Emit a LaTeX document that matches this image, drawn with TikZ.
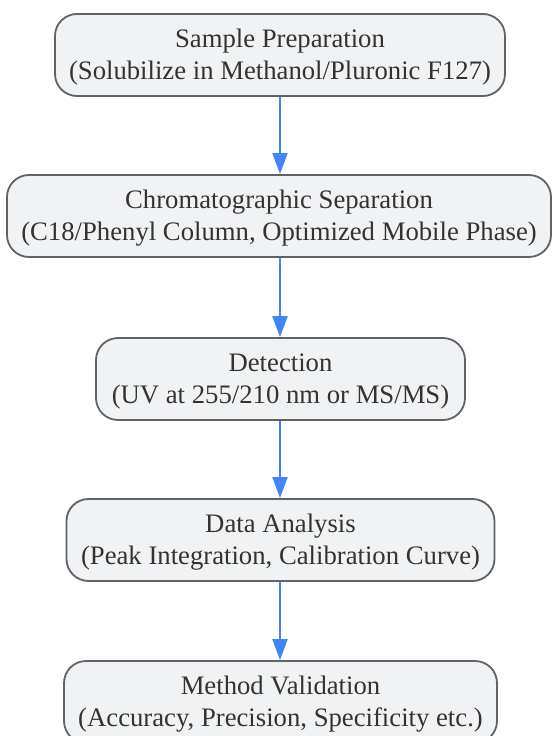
\documentclass[tikz,border=0pt]{standalone}
\usepackage{fontspec}
\setmainfont{Liberation Serif}
\usetikzlibrary{arrows.meta}
\definecolor{boxfill}{HTML}{F1F2F4}
\definecolor{boxline}{HTML}{5F6368}
\definecolor{arrowblue}{HTML}{4285F4}
\definecolor{txt}{HTML}{333333}
\newcommand{\topstrut}{\rule{0pt}{23.5pt}}
\begin{document}
\begin{tikzpicture}[x=1pt,y=1pt,
  stepbox/.style={draw=boxline, line width=1.8pt, fill=boxfill, rounded corners=22pt,
    minimum height=82pt, align=center, text=txt, inner sep=0pt,
    font=\fontsize{26.7}{32}\selectfont},
  flow/.style={draw=arrowblue, line width=2pt, -{Triangle[length=21pt,width=15pt]}}]
\useasboundingbox (0,0) rectangle (552,-736);
\node[stepbox, minimum width=450pt] (n1) at (280,-55) {\topstrut Sample Preparation\\(Solubilize in Methanol/Pluronic F127)};
\node[stepbox, minimum width=544pt] (n2) at (279,-216) {\topstrut Chromatographic Separation\\(C18/Phenyl Column, Optimized Mobile Phase)};
\node[stepbox, minimum width=369pt] (n3) at (280.5,-379) {\topstrut Detection\\(UV at 255/210 nm or MS/MS)};
\node[stepbox, minimum width=428pt] (n4) at (280.5,-540) {\topstrut Data Analysis\\(Peak Integration, Calibration Curve)};
\node[stepbox, minimum width=433pt] (n5) at (280.5,-702) {\topstrut Method Validation\\(Accuracy, Precision, Specificity etc.)};
\draw[flow] (n1.south -| 280,0) -- (n2.north -| 280,0);
\draw[flow] (n2.south -| 280,0) -- (n3.north -| 280,0);
\draw[flow] (n3.south -| 280,0) -- (n4.north -| 280,0);
\draw[flow] (n4.south -| 280,0) -- (n5.north -| 280,0);
\end{tikzpicture}
\end{document}
